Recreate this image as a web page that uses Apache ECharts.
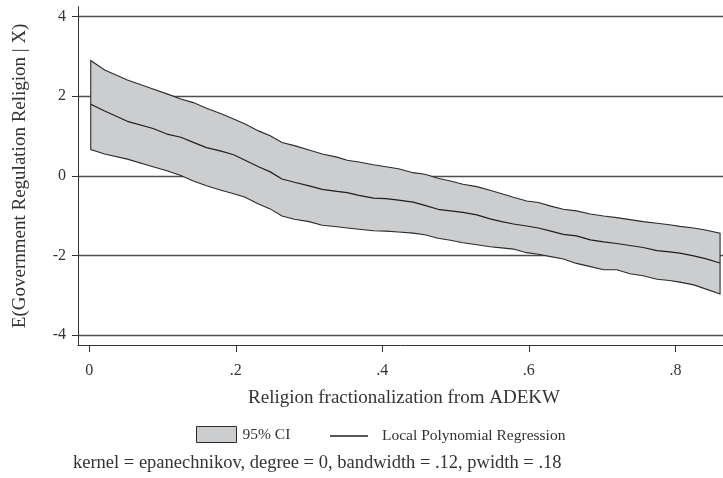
<!DOCTYPE html>
<html>
<head>
<meta charset="utf-8">
<script src="https://cdn.jsdelivr.net/npm/echarts@6/dist/echarts.min.js"></script>
<style>
  html, body { margin: 0; padding: 0; background: #fff; }
  #chart { width: 723px; height: 478px; }
</style>
</head>
<body>
<div id="chart"></div>
<script>
// ---- Data ----
const xValues = [0.002, 0.021, 0.052, 0.087, 0.106, 0.125, 0.142, 0.160, 0.180, 0.197,
  0.212, 0.231, 0.247, 0.263, 0.280, 0.300, 0.318, 0.338, 0.352, 0.368,
  0.388, 0.405, 0.422, 0.442, 0.458, 0.476, 0.493, 0.510, 0.529, 0.547,
  0.563, 0.579, 0.597, 0.613, 0.630, 0.647, 0.665, 0.684, 0.702, 0.720,
  0.738, 0.756, 0.775, 0.792, 0.806, 0.825, 0.841, 0.861];
const ciUpper = [2.90, 2.66, 2.41, 2.18, 2.06, 1.93, 1.84, 1.70, 1.56, 1.43,
  1.31, 1.13, 1.01, 0.84, 0.76, 0.65, 0.55, 0.47, 0.39, 0.35,
  0.28, 0.23, 0.18, 0.08, 0.04, -0.06, -0.13, -0.21, -0.27, -0.36,
  -0.45, -0.54, -0.63, -0.67, -0.76, -0.84, -0.88, -0.96, -1.01, -1.05,
  -1.10, -1.15, -1.19, -1.23, -1.27, -1.31, -1.36, -1.44];
const fitValues = [1.80, 1.63, 1.37, 1.19, 1.05, 0.97, 0.84, 0.71, 0.62, 0.53,
  0.40, 0.23, 0.10, -0.08, -0.16, -0.25, -0.34, -0.39, -0.42, -0.49,
  -0.56, -0.57, -0.61, -0.66, -0.74, -0.84, -0.88, -0.92, -0.98, -1.08,
  -1.15, -1.21, -1.26, -1.31, -1.39, -1.47, -1.51, -1.61, -1.66, -1.70,
  -1.75, -1.80, -1.88, -1.91, -1.94, -2.01, -2.08, -2.19];
const ciLower = [0.66, 0.55, 0.42, 0.23, 0.13, 0.01, -0.13, -0.25, -0.36, -0.45,
  -0.53, -0.71, -0.83, -1.01, -1.09, -1.15, -1.24, -1.28, -1.31, -1.34,
  -1.38, -1.39, -1.41, -1.44, -1.48, -1.57, -1.62, -1.68, -1.73, -1.78,
  -1.81, -1.84, -1.93, -1.97, -2.03, -2.09, -2.20, -2.28, -2.36, -2.36,
  -2.46, -2.51, -2.60, -2.63, -2.67, -2.74, -2.84, -2.97];
const xTickValues = [0, 0.2, 0.4, 0.6, 0.8];
const xTickLabels = ['0', '.2', '.4', '.6', '.8'];
const yTickValues = [-4, -2, 0, 2, 4];
const yTickLabels = ['-4', '-2', '0', '2', '4'];
const xTitle = 'Religion fractionalization from ADEKW';
const yTitle = 'E(Government Regulation Religion | X)';
const ciName = '95% CI';
const fitName = 'Local Polynomial Regression';
const noteText = 'kernel = epanechnikov, degree = 0, bandwidth = .12, pwidth = .18';

// ---- Build ----
const FONT = '"Liberation Serif", "DejaVu Serif", serif';
const TXT = '#333';
const bandRows = xValues.map((x, i) => [x, ciLower[i], ciUpper[i]]);
const fitRows = xValues.map((x, i) => [x, fitValues[i]]);

const chart = echarts.init(document.getElementById('chart'), null, { renderer: 'canvas' });

chart.setOption({
  animation: false,
  backgroundColor: '#ffffff',
  textStyle: { fontFamily: FONT, color: TXT },
  title: {
    text: noteText,
    left: 73,
    top: 454,
    padding: 0,
    textStyle: { fontFamily: FONT, fontSize: 18.5, fontWeight: 'normal', color: TXT }
  },
  legend: [
    {
      data: [{ name: ciName, icon: 'rect', itemStyle: { color: '#cccdcf', borderColor: '#2b2b2b', borderWidth: 1 } }],
      left: 196, top: 426, padding: 0,
      itemWidth: 40, itemHeight: 16,
      textStyle: { fontFamily: FONT, fontSize: 15.5, color: TXT, padding: [0, 0, 0, 1] },
      selectedMode: false
    },
    {
      data: [{ name: fitName, icon: 'path://M0,0H38V1.3H0Z', itemStyle: { color: '#1e1e1e', borderWidth: 0 } }],
      left: 330, top: 428, padding: 0,
      itemWidth: 38, itemHeight: 16,
      textStyle: { fontFamily: FONT, fontSize: 15.5, color: TXT, padding: [0, 0, 0, 9] },
      selectedMode: false
    }
  ],
  grid: { left: 78, right: 0, top: 6.7, bottom: 133, containLabel: false },
  xAxis: {
    type: 'value',
    min: -0.0154, max: 0.865,
    axisLine: { show: true, onZero: false, lineStyle: { color: '#333', width: 1 } },
    axisTick: { show: true, customValues: xTickValues, length: 7, lineStyle: { color: '#333', width: 1 } },
    axisLabel: {
      show: true, customValues: xTickValues, margin: 18,
      fontFamily: FONT, fontSize: 16, color: TXT,
      formatter: v => { const i = xTickValues.findIndex(t => Math.abs(t - v) < 1e-9); return i >= 0 ? xTickLabels[i] : ''; }
    },
    splitLine: { show: false },
    name: xTitle, nameLocation: 'middle', nameGap: 44,
    nameTextStyle: { fontFamily: FONT, fontSize: 19, color: TXT, padding: [0, 0, 0, 7] }
  },
  yAxis: {
    type: 'value',
    min: -4.25, max: 4.25,
    axisLine: { show: true, onZero: false, lineStyle: { color: '#333', width: 1 } },
    axisTick: { show: true, customValues: yTickValues, length: 6, lineStyle: { color: '#333', width: 1 } },
    axisLabel: {
      show: true, customValues: yTickValues, margin: 12,
      fontFamily: FONT, fontSize: 16, color: TXT,
      formatter: v => { const i = yTickValues.findIndex(t => Math.abs(t - v) < 1e-9); return i >= 0 ? yTickLabels[i] : ''; }
    },
    splitLine: { show: true, lineStyle: { color: '#4d4d4d', width: 1.3 } },
    name: yTitle, nameLocation: 'middle', nameGap: 48, nameRotate: 90,
    nameTextStyle: { fontFamily: FONT, fontSize: 19, color: TXT }
  },
  series: [
    {
      name: ciName,
      type: 'custom',
      data: bandRows,
      encode: { x: 0, y: [1, 2] },
      clip: true,
      z: 2,
      renderItem: function (params, api) {
        if (params.dataIndex !== 0) return null;
        const pts = [];
        for (let i = 0; i < bandRows.length; i++) pts.push(api.coord([bandRows[i][0], bandRows[i][2]]));
        for (let i = bandRows.length - 1; i >= 0; i--) pts.push(api.coord([bandRows[i][0], bandRows[i][1]]));
        return {
          type: 'polygon',
          shape: { points: pts },
          style: { fill: '#cccdcf', stroke: '#2b2b2b', lineWidth: 1.1 }
        };
      }
    },
    {
      name: fitName,
      type: 'line',
      data: fitRows,
      symbol: 'none',
      z: 3,
      lineStyle: { color: '#1e1e1e', width: 1.2 },
      itemStyle: { color: '#1e1e1e' }
    }
  ]
});
</script>
</body>
</html>
